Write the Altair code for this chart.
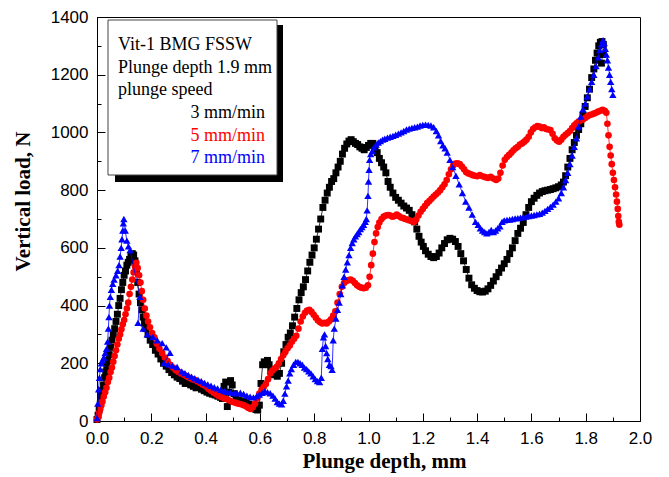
import altair as alt
import pandas as pd

# ---- 3 mm/min (black squares)
x_3 = [0.000, 0.004, 0.008, 0.012, 0.016, 0.020, 0.024, 0.028, 0.032, 0.036, 0.040, 0.045, 0.050, 0.055, 0.060,
       0.065, 0.070, 0.075, 0.080, 0.085, 0.090, 0.095, 0.100, 0.105, 0.110, 0.115, 0.120, 0.125, 0.130, 0.135,
       0.140, 0.145, 0.150, 0.155, 0.160, 0.165, 0.170, 0.175, 0.180, 0.188, 0.196, 0.205, 0.215, 0.225, 0.235,
       0.245, 0.255, 0.265, 0.275, 0.285, 0.295, 0.305, 0.315, 0.325, 0.335, 0.345, 0.355, 0.365, 0.375, 0.385,
       0.395, 0.405, 0.415, 0.425, 0.435, 0.445, 0.455, 0.462, 0.468, 0.474, 0.480, 0.486, 0.492, 0.498, 0.505,
       0.512, 0.520, 0.530, 0.540, 0.550, 0.560, 0.570, 0.578, 0.585, 0.592, 0.598, 0.604, 0.610, 0.616, 0.622,
       0.628, 0.634, 0.640, 0.648, 0.656, 0.664, 0.672, 0.680, 0.688, 0.696, 0.704, 0.712, 0.720, 0.728, 0.736,
       0.744, 0.752, 0.760, 0.768, 0.776, 0.784, 0.792, 0.800, 0.808, 0.816, 0.824, 0.832, 0.840, 0.848, 0.856,
       0.864, 0.872, 0.880, 0.888, 0.896, 0.904, 0.912, 0.920, 0.928, 0.936, 0.944, 0.952, 0.960, 0.968, 0.976,
       0.984, 0.992, 1.000, 1.008, 1.016, 1.024, 1.032, 1.040, 1.048, 1.056, 1.064, 1.072, 1.080, 1.090, 1.100,
       1.110, 1.120, 1.130, 1.140, 1.150, 1.160, 1.170, 1.178, 1.186, 1.194, 1.202, 1.210, 1.220, 1.230, 1.240,
       1.250, 1.260, 1.270, 1.280, 1.290, 1.300, 1.310, 1.320, 1.330, 1.340, 1.350, 1.360, 1.370, 1.380, 1.390,
       1.400, 1.410, 1.420, 1.430, 1.440, 1.450, 1.460, 1.470, 1.480, 1.490, 1.500, 1.510, 1.520, 1.530, 1.540,
       1.550, 1.560, 1.570, 1.580, 1.590, 1.600, 1.610, 1.620, 1.630, 1.640, 1.650, 1.660, 1.670, 1.680, 1.690,
       1.700, 1.710, 1.718, 1.726, 1.734, 1.742, 1.750, 1.758, 1.766, 1.774, 1.782, 1.790, 1.798, 1.806, 1.814,
       1.822, 1.830, 1.836, 1.842, 1.848, 1.854, 1.860, 1.865, 1.862, 1.858]
y_3 = [5, 20, 40, 60, 85, 105, 125, 150, 170, 190, 210, 230, 255, 280, 300,
       320, 345, 370, 400, 425, 455, 480, 505, 520, 540, 550, 560, 570, 580, 575,
       555, 525, 480, 440, 410, 385, 360, 340, 320, 300, 280, 265, 245, 232, 215,
       200, 190, 178, 168, 160, 152, 147, 138, 130, 132, 125, 120, 115, 118, 110,
       105, 100, 96, 93, 90, 86, 82, 78, 120, 135, 50, 100, 140, 125, 95,
       80, 72, 68, 70, 62, 58, 52, 45, 40, 38, 55, 130, 195, 205, 200,
       210, 195, 175, 160, 175, 155, 165, 200, 240, 265, 290, 305, 330, 360, 390,
       420, 445, 465, 490, 520, 550, 575, 600, 630, 665, 700, 740, 765, 790, 810,
       830, 840, 860, 880, 900, 925, 945, 960, 970, 975, 968, 962, 958, 950, 945,
       940, 948, 955, 962, 962, 950, 930, 910, 895, 880, 860, 830, 810, 790, 775,
       765, 755, 745, 738, 730, 715, 690, 665, 640, 620, 605, 590, 578, 570, 566,
       570, 582, 600, 615, 628, 633, 630, 622, 605, 580, 555, 525, 495, 472, 460,
       452, 448, 447, 450, 458, 470, 485, 500, 515, 530, 545, 560, 580, 600, 625,
       650, 668, 688, 715, 740, 760, 772, 782, 790, 795, 798, 800, 802, 805, 808,
       812, 818, 828, 850, 880, 910, 940, 965, 990, 1010, 1030, 1060, 1090, 1120, 1150,
       1190, 1220, 1250, 1275, 1300, 1312, 1315, 1305, 1270, 1240]

# ---- 5 mm/min (red circles)
x_5 = [0.000, 0.004, 0.008, 0.012, 0.016, 0.020, 0.025, 0.030, 0.035, 0.040, 0.045, 0.050, 0.055, 0.060, 0.065,
       0.070, 0.075, 0.080, 0.085, 0.090, 0.095, 0.100, 0.105, 0.110, 0.115, 0.120, 0.125, 0.130, 0.135, 0.140,
       0.145, 0.150, 0.155, 0.160, 0.165, 0.170, 0.176, 0.182, 0.188, 0.195, 0.203, 0.211, 0.220, 0.230, 0.240,
       0.250, 0.260, 0.270, 0.280, 0.290, 0.300, 0.310, 0.320, 0.330, 0.340, 0.350, 0.360, 0.370, 0.380, 0.390,
       0.400, 0.410, 0.420, 0.430, 0.440, 0.450, 0.460, 0.470, 0.480, 0.490, 0.500, 0.510, 0.520, 0.530, 0.540,
       0.550, 0.558, 0.566, 0.574, 0.582, 0.590, 0.598, 0.606, 0.614, 0.622, 0.630, 0.638, 0.646, 0.654, 0.662,
       0.670, 0.678, 0.686, 0.694, 0.702, 0.710, 0.718, 0.726, 0.734, 0.742, 0.750, 0.758, 0.766, 0.774, 0.782,
       0.790, 0.798, 0.806, 0.814, 0.822, 0.830, 0.838, 0.846, 0.854, 0.862, 0.870, 0.878, 0.886, 0.894, 0.902,
       0.910, 0.918, 0.926, 0.934, 0.942, 0.950, 0.958, 0.966, 0.974, 0.982, 0.990, 0.998, 1.004, 1.010, 1.016,
       1.022, 1.028, 1.034, 1.040, 1.048, 1.056, 1.064, 1.072, 1.080, 1.088, 1.096, 1.104, 1.112, 1.120, 1.128,
       1.136, 1.144, 1.152, 1.160, 1.168, 1.176, 1.184, 1.192, 1.200, 1.208, 1.216, 1.224, 1.232, 1.240, 1.248,
       1.256, 1.264, 1.272, 1.280, 1.288, 1.296, 1.304, 1.312, 1.320, 1.328, 1.336, 1.344, 1.352, 1.360, 1.368,
       1.376, 1.384, 1.392, 1.400, 1.410, 1.420, 1.430, 1.440, 1.450, 1.460, 1.470, 1.478, 1.486, 1.494, 1.502,
       1.510, 1.518, 1.526, 1.534, 1.542, 1.550, 1.558, 1.566, 1.574, 1.582, 1.590, 1.598, 1.606, 1.614, 1.622,
       1.630, 1.638, 1.646, 1.654, 1.662, 1.670, 1.678, 1.686, 1.694, 1.702, 1.710, 1.718, 1.726, 1.734, 1.742,
       1.750, 1.758, 1.766, 1.774, 1.782, 1.790, 1.798, 1.806, 1.814, 1.822, 1.830, 1.838, 1.846, 1.854, 1.862,
       1.870, 1.876, 1.880, 1.884, 1.888, 1.892, 1.896, 1.900, 1.904, 1.908, 1.912, 1.915, 1.918, 1.920, 1.922,
       1.924]
y_5 = [5, 14, 28, 42, 55, 68, 85, 100, 115, 135, 150, 170, 185, 205, 225,
       245, 265, 285, 300, 318, 335, 350, 370, 390, 410, 440, 465, 490, 515, 535,
       548, 530, 505, 480, 450, 420, 390, 365, 345, 325, 305, 290, 268, 250, 235,
       220, 208, 195, 185, 176, 170, 165, 160, 155, 150, 145, 142, 137, 132, 126,
       120, 112, 105, 98, 92, 86, 82, 78, 75, 70, 66, 63, 60, 58, 55,
       50, 45, 42, 48, 60, 78, 95, 108, 118, 128, 145, 165, 175, 182, 188,
       200, 215, 228, 240, 252, 262, 275, 285, 295, 320, 345, 362, 375, 383, 385,
       378, 368, 358, 348, 342, 338, 340, 338, 345, 352, 365, 380, 410, 440, 465,
       478, 485, 488, 490, 486, 478, 470, 465, 462, 460, 462, 470, 500, 540, 580,
       620, 650, 672, 688, 700, 708, 712, 714, 712, 708, 710, 715, 710, 705, 703,
       700, 697, 695, 692, 690, 698, 712, 725, 735, 745, 755, 762, 770, 778, 785,
       792, 800, 810, 820, 835, 855, 872, 885, 892, 893, 890, 882, 872, 862, 858,
       855, 852, 850, 848, 852, 848, 845, 842, 846, 840, 835, 840, 860, 885, 905,
       915, 922, 930, 938, 945, 950, 958, 962, 968, 975, 985, 1000, 1012, 1018, 1022,
       1020, 1015, 1018, 1012, 1010, 1008, 995, 980, 972, 968, 975, 985, 992, 998, 1005,
       1015, 1025, 1032, 1038, 1042, 1045, 1050, 1055, 1060, 1062, 1065, 1068, 1072, 1075, 1078,
       1075, 1068, 1030, 990, 950, 920, 890, 860, 835, 810, 785, 760, 735, 710, 690,
       680]

# ---- 7 mm/min (blue triangles)
x_7 = [0.000, 0.003, 0.006, 0.009, 0.012, 0.016, 0.020, 0.025, 0.030, 0.035, 0.039, 0.042, 0.044, 0.046, 0.049,
       0.053, 0.058, 0.063, 0.070, 0.076, 0.081, 0.085, 0.089, 0.092, 0.095, 0.097, 0.099, 0.104, 0.110, 0.116,
       0.122, 0.158, 0.151, 0.170, 0.185, 0.206, 0.222, 0.240, 0.255, 0.269, 0.247, 0.262, 0.278, 0.295, 0.312,
       0.324, 0.336, 0.348, 0.360, 0.372, 0.384, 0.396, 0.408, 0.420, 0.432, 0.444, 0.456, 0.468, 0.480, 0.492,
       0.504, 0.516, 0.528, 0.540, 0.552, 0.564, 0.576, 0.588, 0.598, 0.608, 0.618, 0.628, 0.638, 0.648, 0.656,
       0.664, 0.672, 0.680, 0.686, 0.692, 0.698, 0.704, 0.710, 0.716, 0.724, 0.732, 0.740, 0.748, 0.756, 0.764,
       0.772, 0.780, 0.788, 0.796, 0.804, 0.812, 0.820, 0.826, 0.830, 0.834, 0.838, 0.842, 0.846, 0.850, 0.856,
       0.862, 0.866, 0.870, 0.874, 0.880, 0.886, 0.892, 0.898, 0.904, 0.910, 0.916, 0.922, 0.928, 0.934, 0.940,
       0.946, 0.952, 0.958, 0.964, 0.970, 0.976, 0.982, 0.988, 0.992, 0.995, 0.998, 1.000, 1.002, 1.004, 1.008,
       1.014, 1.020, 1.028, 1.036, 1.044, 1.052, 1.060, 1.070, 1.080, 1.090, 1.100, 1.110, 1.120, 1.130, 1.140,
       1.150, 1.160, 1.170, 1.180, 1.190, 1.200, 1.210, 1.220, 1.230, 1.240, 1.250, 1.258, 1.266, 1.274, 1.282,
       1.290, 1.300, 1.310, 1.322, 1.334, 1.346, 1.358, 1.370, 1.382, 1.394, 1.404, 1.412, 1.420, 1.428, 1.436,
       1.444, 1.452, 1.460, 1.468, 1.476, 1.484, 1.492, 1.500, 1.510, 1.520, 1.530, 1.540, 1.550, 1.560, 1.570,
       1.580, 1.590, 1.600, 1.610, 1.620, 1.630, 1.640, 1.650, 1.660, 1.670, 1.680, 1.690, 1.700, 1.710, 1.718,
       1.726, 1.734, 1.742, 1.750, 1.758, 1.766, 1.774, 1.782, 1.790, 1.798, 1.806, 1.814, 1.822, 1.830, 1.838,
       1.846, 1.852, 1.858, 1.864, 1.868, 1.872, 1.876, 1.880, 1.884, 1.888, 1.892, 1.896, 1.900]
y_7 = [10, 60, 110, 150, 180, 200, 210, 220, 235, 250, 275, 320, 360, 400, 430,
       455, 475, 490, 505, 520, 540, 570, 600, 630, 660, 685, 700, 660, 625, 605,
       592, 430, 340, 320, 300, 291, 280, 270, 255, 236, 201, 196, 192, 187, 172,
       166, 160, 154, 148, 143, 138, 132, 127, 122, 117, 113, 108, 104, 101, 99,
       97, 96, 98, 94, 88, 84, 82, 86, 92, 98, 103, 100, 96, 88, 78,
       66, 60, 58, 70, 95, 120, 140, 165, 180, 195, 205, 205, 200, 195, 185,
       180, 172, 165, 155, 145, 138, 135, 150, 250, 290, 300, 260, 235, 215, 195,
       190, 177, 280, 320, 355, 385, 410, 440, 470, 500, 525, 550, 575, 600, 617,
       630, 640, 648, 655, 665, 672, 680, 690, 700, 730, 780, 830, 870, 905, 925,
       935, 948, 958, 965, 970, 975, 978, 982, 985, 988, 992, 996, 1000, 1005, 1010,
       1013, 1016, 1018, 1020, 1024, 1026, 1027, 1026, 1024, 1018, 1005, 990, 970, 955, 945,
       930, 905, 880, 850, 820, 790, 760, 740, 715, 690, 680, 668, 660, 655, 650,
       655, 662, 655, 660, 668, 675, 690, 695, 697, 698, 700, 702, 703, 705, 707,
       708, 710, 712, 714, 716, 718, 722, 728, 735, 742, 750, 760, 772, 790, 810,
       835, 860, 890, 920, 950, 980, 1020, 1055, 1080, 1100, 1125, 1150, 1175, 1200, 1230,
       1260, 1285, 1305, 1320, 1310, 1290, 1270, 1250, 1225, 1200, 1175, 1150, 1130]

series_names = ["3 mm/min", "5 mm/min", "7 mm/min"]
series_colors = ["#000000", "#ff0000", "#0000ff"]
series_shapes = ["square", "circle", "triangle-up"]
series_sizes = [48, 44, 54]

note_lines = ["Vit-1 BMG FSSW", "Plunge depth 1.9 mm", "plunge speed"]

x_major = [0.0, 0.2, 0.4, 0.6, 0.8, 1.0, 1.2, 1.4, 1.6, 1.8, 2.0]
x_minor = [0.1, 0.3, 0.5, 0.7, 0.9, 1.1, 1.3, 1.5, 1.7, 1.9]
y_major = [0, 200, 400, 600, 800, 1000, 1200, 1400]
y_minor = [100, 300, 500, 700, 900, 1100, 1300]

W, H = 543, 404
xs = alt.Scale(domain=[0, 2.0], nice=False, zero=False)
ys = alt.Scale(domain=[0, 1400], nice=False)

main_x = alt.Axis(values=x_major, format=".1f", ticks=False, domain=True, domainColor="black",
                  labelFont="Liberation Sans", labelFontSize=17, labelColor="black", labelPadding=9,
                  labelFlush=False, grid=False,
                  title="Plunge depth, mm", titleFont="Liberation Serif", titleFontSize=21,
                  titleFontWeight="bold", titleColor="black", titlePadding=4, titleX=287, orient="bottom")
main_y = alt.Axis(values=y_major, format="d", ticks=False, domain=True, domainColor="black",
                  labelFont="Liberation Sans", labelFontSize=17, labelColor="black", labelPadding=9,
                  labelFlush=False, grid=False,
                  title="Vertical load, N", titleFont="Liberation Serif", titleFontSize=21,
                  titleFontWeight="bold", titleColor="black", titlePadding=17, titleY=184, orient="left")

def tick_axis(vals, size, orient):
    return alt.Axis(values=vals, ticks=True, tickSize=size, tickColor="black", tickWidth=1,
                    offset=-size, domain=False, labels=False, title=None, grid=False, orient=orient)

layers = []
for i, (xv, yv, nm, col, shp, sz) in enumerate(zip([x_3, x_5, x_7], [y_3, y_5, y_7], series_names,
                                                     series_colors, series_shapes, series_sizes)):
    df = pd.DataFrame({"x": xv, "y": yv, "i": list(range(len(xv)))})
    ax_x = main_x if i == 0 else None
    ax_y = main_y if i == 0 else None
    base = alt.Chart(df).encode(
        x=alt.X("x:Q", scale=xs, axis=ax_x),
        y=alt.Y("y:Q", scale=ys, axis=ax_y),
        order="i:Q",
    )
    layers.append(base.mark_line(color=col, strokeWidth=0.8))
    layers.append(alt.Chart(df).mark_point(shape=shp, filled=True, color=col, size=sz, opacity=1).encode(
        x=alt.X("x:Q", scale=xs, axis=None), y=alt.Y("y:Q", scale=ys, axis=None)))

# inward tick axes (major and minor) via invisible layers
tick_df = pd.DataFrame({"x": x_3[:1], "y": y_3[:1]})
for xv, yv, sz in [(x_major, y_major, 8), (x_minor, y_minor, 4)]:
    layers.append(alt.Chart(tick_df).mark_point(opacity=0).encode(
        x=alt.X("x:Q", scale=xs, axis=tick_axis(xv, sz, "bottom")),
        y=alt.Y("y:Q", scale=ys, axis=tick_axis(yv, sz, "left"))))

# note box with drop shadow
one = pd.DataFrame({"a": [0]})
layers.append(alt.Chart(one).mark_rect(color="black").encode(
    x=alt.value(180), x2=alt.value(186), y=alt.value(8), y2=alt.value(165)))
layers.append(alt.Chart(one).mark_rect(color="black").encode(
    x=alt.value(18), x2=alt.value(186), y=alt.value(158), y2=alt.value(165)))
layers.append(alt.Chart(one).mark_rect(fill="white", stroke="#444444", strokeWidth=1).encode(
    x=alt.value(11), x2=alt.value(180), y=alt.value(3), y2=alt.value(158)))

for k, line in enumerate(note_lines):
    layers.append(alt.Chart(one).mark_text(align="left", baseline="middle", font="Liberation Serif",
                                           fontSize=18, color="black").encode(
        x=alt.value(21), y=alt.value(28 + 22.5 * k), text=alt.value(line)))
for k, (nm, col) in enumerate(zip(series_names, series_colors)):
    layers.append(alt.Chart(one).mark_text(align="right", baseline="middle", font="Liberation Serif",
                                           fontSize=18, color=col).encode(
        x=alt.value(168), y=alt.value(96 + 22.5 * k), text=alt.value(nm)))

chart = alt.layer(*layers).resolve_axis(x="independent", y="independent").properties(
    width=W, height=H,
    autosize=alt.AutoSizeParams(type="none"),
    padding={"left": 97, "top": 17, "right": 29, "bottom": 56},
    background="white",
).configure_view(stroke="black", strokeWidth=1)

chart.save("out.html", embed_options={"renderer": "svg", "actions": False})
